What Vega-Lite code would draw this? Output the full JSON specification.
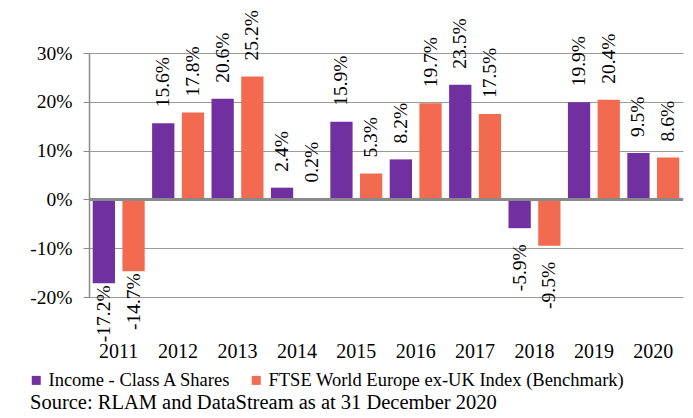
{
  "$schema": "https://vega.github.io/schema/vega-lite/v6.json",
  "width": 594,
  "height": 244,
  "autosize": {"type": "none"},
  "padding": {"left": 89, "top": 53, "right": 10, "bottom": 121},
  "background": "white",
  "config": {
    "font": "'Liberation Serif', 'DejaVu Serif', 'Times New Roman', serif",
    "view": {"stroke": null},
    "axis": {"labelFont": "'Liberation Serif', 'DejaVu Serif', 'Times New Roman', serif"},
    "legend": {"labelFont": "'Liberation Serif', 'DejaVu Serif', 'Times New Roman', serif"},
    "text": {"font": "'Liberation Serif', 'DejaVu Serif', 'Times New Roman', serif"}
  },
  "title": {
    "text": "Source: RLAM and DataStream as at 31 December 2020",
    "orient": "bottom",
    "anchor": "start",
    "frame": "group",
    "fontSize": 20.5,
    "fontWeight": "normal",
    "font": "'Liberation Serif', 'DejaVu Serif', 'Times New Roman', serif",
    "color": "black",
    "dx": -59,
    "offset": 3
  },
  "data": {
    "values": [
      {"year": "2011", "series": "Income - Class A Shares", "value": -0.172, "label": "-17.2%"},
      {"year": "2011", "series": "FTSE World Europe ex-UK Index (Benchmark)", "value": -0.147, "label": "-14.7%"},
      {"year": "2012", "series": "Income - Class A Shares", "value": 0.156, "label": "15.6%"},
      {"year": "2012", "series": "FTSE World Europe ex-UK Index (Benchmark)", "value": 0.178, "label": "17.8%"},
      {"year": "2013", "series": "Income - Class A Shares", "value": 0.206, "label": "20.6%"},
      {"year": "2013", "series": "FTSE World Europe ex-UK Index (Benchmark)", "value": 0.252, "label": "25.2%"},
      {"year": "2014", "series": "Income - Class A Shares", "value": 0.024, "label": "2.4%"},
      {"year": "2014", "series": "FTSE World Europe ex-UK Index (Benchmark)", "value": 0.002, "label": "0.2%"},
      {"year": "2015", "series": "Income - Class A Shares", "value": 0.159, "label": "15.9%"},
      {"year": "2015", "series": "FTSE World Europe ex-UK Index (Benchmark)", "value": 0.053, "label": "5.3%"},
      {"year": "2016", "series": "Income - Class A Shares", "value": 0.082, "label": "8.2%"},
      {"year": "2016", "series": "FTSE World Europe ex-UK Index (Benchmark)", "value": 0.197, "label": "19.7%"},
      {"year": "2017", "series": "Income - Class A Shares", "value": 0.235, "label": "23.5%"},
      {"year": "2017", "series": "FTSE World Europe ex-UK Index (Benchmark)", "value": 0.175, "label": "17.5%"},
      {"year": "2018", "series": "Income - Class A Shares", "value": -0.059, "label": "-5.9%"},
      {"year": "2018", "series": "FTSE World Europe ex-UK Index (Benchmark)", "value": -0.095, "label": "-9.5%"},
      {"year": "2019", "series": "Income - Class A Shares", "value": 0.199, "label": "19.9%"},
      {"year": "2019", "series": "FTSE World Europe ex-UK Index (Benchmark)", "value": 0.204, "label": "20.4%"},
      {"year": "2020", "series": "Income - Class A Shares", "value": 0.095, "label": "9.5%"},
      {"year": "2020", "series": "FTSE World Europe ex-UK Index (Benchmark)", "value": 0.086, "label": "8.6%"}
    ]
  },
  "layer": [
    {
      "mark": {"type": "bar"},
      "encoding": {
        "x": {
          "field": "year", "type": "nominal", "title": null,
          "scale": {"paddingInner": 0, "paddingOuter": 0},
          "axis": {"domain": false, "ticks": false, "grid": false, "labelAngle": 0, "labelPadding": 44, "labelFontSize": 20, "labelColor": "black", "labelFont": "'Liberation Serif', 'DejaVu Serif', 'Times New Roman', serif"}
        },
        "xOffset": {
          "field": "series", "type": "nominal",
          "sort": ["Income - Class A Shares", "FTSE World Europe ex-UK Index (Benchmark)"],
          "scale": {"paddingInner": 0.25, "paddingOuter": 0.125}
        },
        "y": {
          "field": "value", "type": "quantitative", "title": null,
          "scale": {"domain": [-0.2, 0.3], "nice": false, "zero": false},
          "axis": {
            "values": [-0.2, -0.15, -0.1, -0.05, 0, 0.05, 0.1, 0.15, 0.2, 0.25, 0.3],
            "format": ".0%", "labelExpr": "replace(datum.label, '\u2212', '-')",
            "labelOverlap": false, "grid": true, "gridColor": "#9a9a9a", "gridWidth": 1,
            "domainColor": "#8a8a8a", "domainWidth": 1.5, "tickColor": "#8a8a8a", "tickSize": 6,
            "labelFontSize": 19.5, "labelColor": "black", "labelPadding": 11,
            "labelFont": "'Liberation Serif', 'DejaVu Serif', 'Times New Roman', serif"
          }
        },
        "color": {
          "field": "series", "type": "nominal",
          "sort": ["Income - Class A Shares", "FTSE World Europe ex-UK Index (Benchmark)"],
          "scale": {"domain": ["Income - Class A Shares", "FTSE World Europe ex-UK Index (Benchmark)"], "range": ["#7030A0", "#F26A4F"]},
          "legend": {
            "orient": "none", "legendX": -62, "legendY": 318, "direction": "horizontal",
            "title": null, "symbolType": "square", "symbolSize": 81, "symbolStrokeWidth": 0,
            "labelFontSize": 18.5, "labelColor": "black",
            "labelFont": "'Liberation Serif', 'DejaVu Serif', 'Times New Roman', serif",
            "labelLimit": 0, "columnPadding": 15, "labelOffset": 3
          }
        }
      }
    },
    {
      "mark": {"type": "rule", "color": "#8a8a8a", "strokeWidth": 2},
      "encoding": {"y": {"datum": 0, "type": "quantitative"}}
    },
    {
      "transform": [{"filter": "datum.value >= 0"}],
      "mark": {"type": "text", "angle": 270, "align": "left", "baseline": "middle", "dx": 16, "fontSize": 19.5, "color": "black", "font": "'Liberation Serif', 'DejaVu Serif', 'Times New Roman', serif"},
      "encoding": {
        "x": {"field": "year", "type": "nominal"},
        "xOffset": {"field": "series", "type": "nominal", "sort": ["Income - Class A Shares", "FTSE World Europe ex-UK Index (Benchmark)"]},
        "y": {"field": "value", "type": "quantitative"},
        "text": {"field": "label", "type": "nominal"}
      }
    },
    {
      "transform": [{"filter": "datum.value < 0 && datum.value >= -0.12"}],
      "mark": {"type": "text", "angle": 270, "align": "right", "baseline": "middle", "dx": -16, "fontSize": 19.5, "color": "black", "font": "'Liberation Serif', 'DejaVu Serif', 'Times New Roman', serif"},
      "encoding": {
        "x": {"field": "year", "type": "nominal"},
        "xOffset": {"field": "series", "type": "nominal", "sort": ["Income - Class A Shares", "FTSE World Europe ex-UK Index (Benchmark)"]},
        "y": {"field": "value", "type": "quantitative"},
        "text": {"field": "label", "type": "nominal"}
      }
    },
    {
      "transform": [{"filter": "datum.value < -0.12"}],
      "mark": {"type": "text", "angle": 270, "align": "right", "baseline": "middle", "dx": -2, "fontSize": 19.5, "color": "black", "font": "'Liberation Serif', 'DejaVu Serif', 'Times New Roman', serif"},
      "encoding": {
        "x": {"field": "year", "type": "nominal"},
        "xOffset": {"field": "series", "type": "nominal", "sort": ["Income - Class A Shares", "FTSE World Europe ex-UK Index (Benchmark)"]},
        "y": {"field": "value", "type": "quantitative"},
        "text": {"field": "label", "type": "nominal"}
      }
    }
  ]
}
